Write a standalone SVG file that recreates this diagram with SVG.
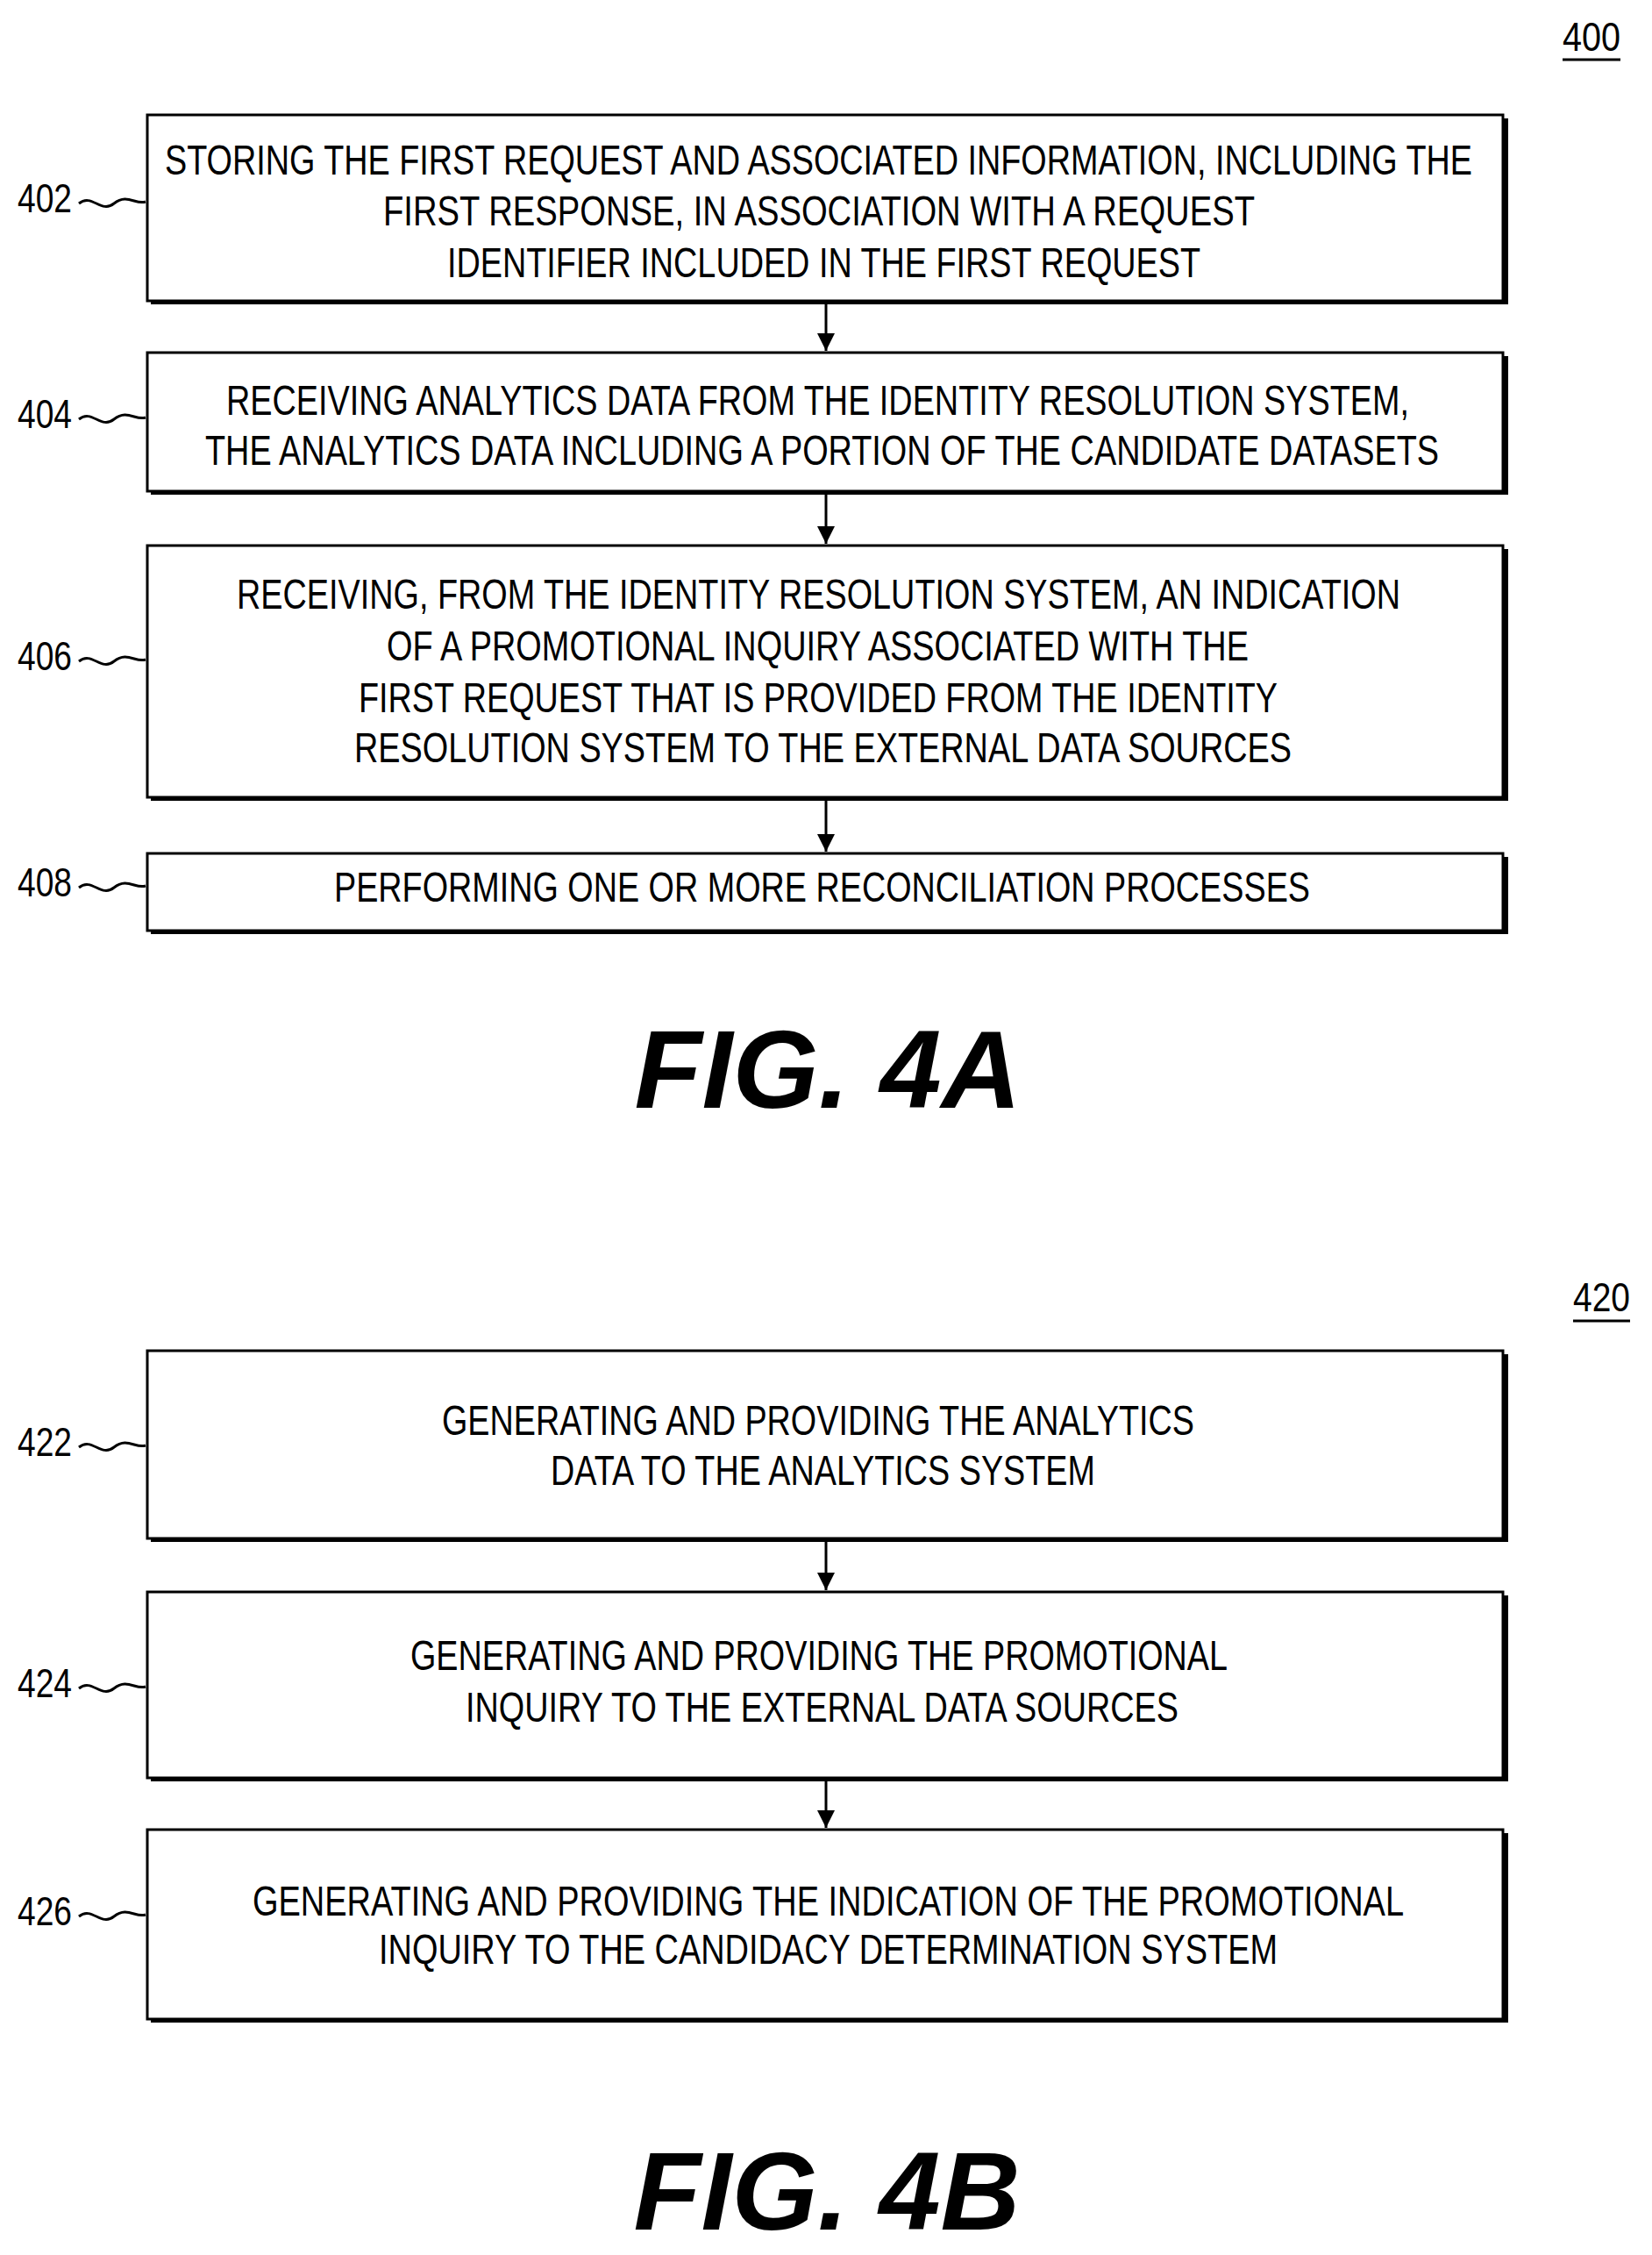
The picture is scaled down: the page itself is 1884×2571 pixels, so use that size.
<svg xmlns="http://www.w3.org/2000/svg" width="1884" height="2571" viewBox="0 0 1884 2571">
<style>
.box{fill:#fff;stroke:#000;stroke-width:3}
.sh{fill:#000;stroke:none}
text{font-family:"Liberation Sans",Arial,sans-serif;fill:#000}
.t{font-size:48px;text-anchor:start}
.lbl{font-size:46px}
.fig{font-size:126px;font-weight:bold;font-style:italic;text-anchor:middle}
.sq{fill:none;stroke:#000;stroke-width:3}
.c{stroke:#000;stroke-width:3;fill:none;marker-end:url(#ah)}
</style>
<defs>
<marker id="ah" markerWidth="10" markerHeight="10" refX="9" refY="5" orient="auto" markerUnits="userSpaceOnUse" viewBox="0 0 10 10"><path d="M0,0 L10,5 L0,10 z" transform="scale(1)"/></marker>
<marker id="ah2" viewBox="0 0 10 10" refX="10" refY="5" markerWidth="20" markerHeight="22" orient="auto" markerUnits="userSpaceOnUse"><path d="M0,0 L10,5 L0,10 z"/></marker>
</defs>
<text class="lbl" x="1782" y="58" textLength="66" lengthAdjust="spacingAndGlyphs">400</text>
<line x1="1782" y1="68" x2="1848" y2="68" stroke="#000" stroke-width="3"/>
<text class="lbl" x="1794" y="1495" textLength="65" lengthAdjust="spacingAndGlyphs">420</text>
<line x1="1794" y1="1506" x2="1859" y2="1506" stroke="#000" stroke-width="3"/>

<g id="connectors">
<line class="c" x1="942" y1="345" x2="942" y2="400" style="marker-end:url(#ah2)"/>
<line class="c" x1="942" y1="562" x2="942" y2="620" style="marker-end:url(#ah2)"/>
<line class="c" x1="942" y1="911" x2="942" y2="971" style="marker-end:url(#ah2)"/>
<line class="c" x1="942" y1="1756" x2="942" y2="1813" style="marker-end:url(#ah2)"/>
<line class="c" x1="942" y1="2029" x2="942" y2="2084" style="marker-end:url(#ah2)"/>
</g>

<g id="n402">
<rect class="sh" x="172" y="135" width="1548" height="212"/>
<rect class="box" x="168" y="131" width="1546" height="212"/>
<text class="t" x="188" y="199" textLength="1491" lengthAdjust="spacingAndGlyphs">STORING THE FIRST REQUEST AND ASSOCIATED INFORMATION, INCLUDING THE</text>
<text class="t" x="437" y="257" textLength="994" lengthAdjust="spacingAndGlyphs">FIRST RESPONSE,  IN ASSOCIATION WITH A REQUEST</text>
<text class="t" x="510" y="316" textLength="859" lengthAdjust="spacingAndGlyphs">IDENTIFIER INCLUDED IN THE FIRST REQUEST</text>
<text class="lbl" x="20" y="242" textLength="62" lengthAdjust="spacingAndGlyphs">402</text>
<path class="sq" d="M90,232 C105,220 115,244 130,232 C145,220 155,234 166,230"/>
</g>
<g id="n404">
<rect class="sh" x="172" y="406" width="1548" height="158"/>
<rect class="box" x="168" y="402" width="1546" height="158"/>
<text class="t" x="258" y="473" textLength="1349" lengthAdjust="spacingAndGlyphs">RECEIVING ANALYTICS DATA FROM THE IDENTITY RESOLUTION SYSTEM,</text>
<text class="t" x="234" y="530" textLength="1407" lengthAdjust="spacingAndGlyphs">THE ANALYTICS DATA INCLUDING A PORTION OF THE CANDIDATE DATASETS</text>
<text class="lbl" x="20" y="488" textLength="62" lengthAdjust="spacingAndGlyphs">404</text>
<path class="sq" d="M90,478 C105,466 115,490 130,478 C145,466 155,480 166,476"/>
</g>
<g id="n406">
<rect class="sh" x="172" y="626" width="1548" height="287"/>
<rect class="box" x="168" y="622" width="1546" height="287"/>
<text class="t" x="270" y="694" textLength="1327" lengthAdjust="spacingAndGlyphs">RECEIVING, FROM THE IDENTITY RESOLUTION SYSTEM, AN INDICATION</text>
<text class="t" x="441" y="753" textLength="983" lengthAdjust="spacingAndGlyphs">OF A PROMOTIONAL INQUIRY ASSOCIATED WITH THE</text>
<text class="t" x="409" y="812" textLength="1048" lengthAdjust="spacingAndGlyphs">FIRST REQUEST THAT IS PROVIDED FROM THE IDENTITY</text>
<text class="t" x="404" y="869" textLength="1069" lengthAdjust="spacingAndGlyphs">RESOLUTION SYSTEM TO THE EXTERNAL DATA SOURCES</text>
<text class="lbl" x="20" y="764" textLength="62" lengthAdjust="spacingAndGlyphs">406</text>
<path class="sq" d="M90,754 C105,742 115,766 130,754 C145,742 155,756 166,752"/>
</g>
<g id="n408">
<rect class="sh" x="172" y="977" width="1548" height="88"/>
<rect class="box" x="168" y="973" width="1546" height="88"/>
<text class="t" x="381" y="1028" textLength="1113" lengthAdjust="spacingAndGlyphs">PERFORMING ONE OR MORE RECONCILIATION PROCESSES</text>
<text class="lbl" x="20" y="1022" textLength="62" lengthAdjust="spacingAndGlyphs">408</text>
<path class="sq" d="M90,1012 C105,1000 115,1024 130,1012 C145,1000 155,1014 166,1010"/>
</g>
<text class="fig" x="944" y="1263">FIG. 4A</text>

<g id="n422">
<rect class="sh" x="172" y="1544" width="1548" height="214"/>
<rect class="box" x="168" y="1540" width="1546" height="214"/>
<text class="t" x="504" y="1636" textLength="858" lengthAdjust="spacingAndGlyphs">GENERATING AND PROVIDING THE ANALYTICS</text>
<text class="t" x="628" y="1693" textLength="621" lengthAdjust="spacingAndGlyphs">DATA TO THE ANALYTICS SYSTEM</text>
<text class="lbl" x="20" y="1660" textLength="62" lengthAdjust="spacingAndGlyphs">422</text>
<path class="sq" d="M90,1650 C105,1638 115,1662 130,1650 C145,1638 155,1652 166,1648"/>
</g>
<g id="n424">
<rect class="sh" x="172" y="1819" width="1548" height="212"/>
<rect class="box" x="168" y="1815" width="1546" height="212"/>
<text class="t" x="468" y="1904" textLength="932" lengthAdjust="spacingAndGlyphs">GENERATING AND PROVIDING THE PROMOTIONAL</text>
<text class="t" x="531" y="1963" textLength="813" lengthAdjust="spacingAndGlyphs">INQUIRY TO THE EXTERNAL DATA SOURCES</text>
<text class="lbl" x="20" y="1935" textLength="62" lengthAdjust="spacingAndGlyphs">424</text>
<path class="sq" d="M90,1925 C105,1913 115,1937 130,1925 C145,1913 155,1927 166,1923"/>
</g>
<g id="n426">
<rect class="sh" x="172" y="2090" width="1548" height="216"/>
<rect class="box" x="168" y="2086" width="1546" height="216"/>
<text class="t" x="288" y="2184" textLength="1313" lengthAdjust="spacingAndGlyphs">GENERATING AND PROVIDING THE INDICATION OF THE PROMOTIONAL</text>
<text class="t" x="432" y="2239" textLength="1025" lengthAdjust="spacingAndGlyphs">INQUIRY TO THE CANDIDACY DETERMINATION SYSTEM</text>
<text class="lbl" x="20" y="2195" textLength="62" lengthAdjust="spacingAndGlyphs">426</text>
<path class="sq" d="M90,2185 C105,2173 115,2197 130,2185 C145,2173 155,2187 166,2183"/>
</g>
<text class="fig" x="943" y="2542">FIG. 4B</text>
</svg>
